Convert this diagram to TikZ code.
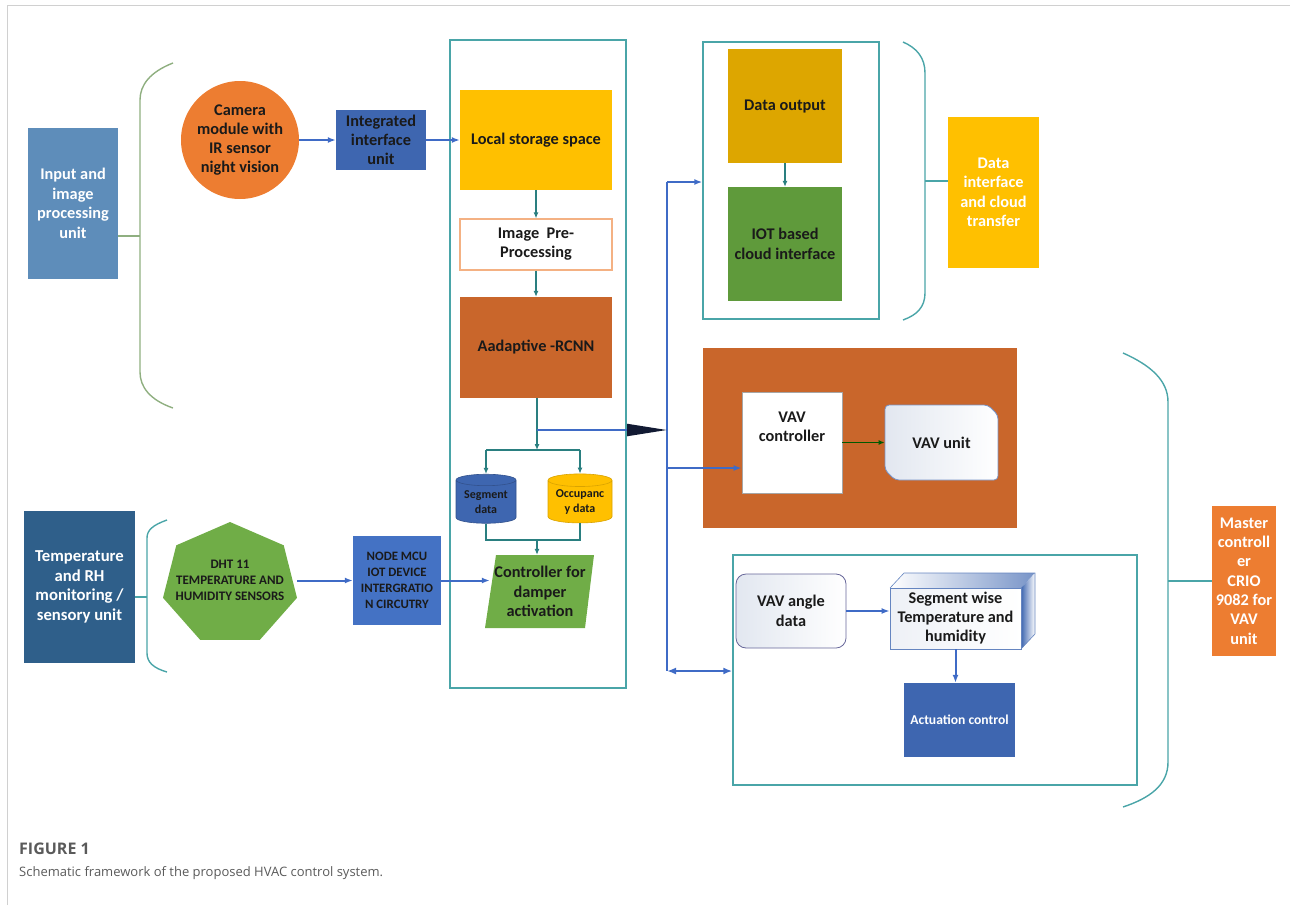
\documentclass[tikz,border=0pt]{standalone}
\usepackage{fontspec}
\setmainfont{Carlito}
\newfontfamily\capfont{Open Sans}
\usetikzlibrary{arrows.meta,shapes.geometric,shapes.misc}
\definecolor{steelA}{HTML}{5E8DBA}
\definecolor{navyB}{HTML}{2F5F8A}
\definecolor{blueC}{HTML}{3E66B0}
\definecolor{blueD}{HTML}{4472C4}
\definecolor{camor}{HTML}{ED7D31}
\definecolor{gold}{HTML}{FFC000}
\definecolor{dgold}{HTML}{DDA600}
\definecolor{greenA}{HTML}{70AD47}
\definecolor{greenB}{HTML}{5F9A3B}
\definecolor{rust}{HTML}{C9662B}
\definecolor{tealO}{HTML}{4AA5A8}
\definecolor{tealA}{HTML}{2A7F80}
\definecolor{lineblue}{HTML}{3F6BC6}
\definecolor{txtdark}{HTML}{1A1A1A}
\definecolor{brgreen}{HTML}{8FAF80}
\definecolor{tipdark}{HTML}{121A33}
\definecolor{capgray}{HTML}{5A5A5A}
\definecolor{frame}{HTML}{D0D0D0}
\definecolor{pale}{HTML}{E2E7F0}
\definecolor{ipporange}{HTML}{F4B183}
\newcommand\setfs[2]{\fontsize{#1}{#2}\selectfont}
\begin{document}
\begin{tikzpicture}[x=1pt,y=-1pt,
  lbl/.style={align=center, font=\bfseries\setfs{16.3}{19.5}, text=txtdark, inner sep=1pt},
  wlbl/.style={lbl, text=white},
  caps/.style={align=center, font=\bfseries\setfs{13}{16}, text=txtdark, inner sep=1pt},
  groupbox/.style={draw=tealO, line width=1.4pt, fill=none},
  tarrow/.style={draw=tealA, line width=1.1pt, -{Latex[length=6pt,width=5pt]}},
  tline/.style={draw=tealA, line width=1.1pt},
  barrow/.style={draw=lineblue, line width=2pt, -{Latex[length=8pt,width=6pt]}},
  bline/.style={draw=lineblue, line width=2pt},
  brace/.style={draw=tealO, line width=1.4pt},
]
\useasboundingbox (0,0) rectangle (1290,905);
% frame
\draw[frame, line width=1pt] (7,905) -- (7,5) -- (1290,5);

% ---------- left units ----------
\node[wlbl, fill=steelA, minimum width=90pt, minimum height=151pt] (inp) at (73,203.5)
  {Input and\\image\\processing\\unit};
\node[wlbl, fill=navyB, minimum width=111pt, minimum height=152pt, font=\bfseries\setfs{16.7}{19.5}] (temp) at (79.5,587)
  {Temperature\\and RH\\monitoring /\\sensory unit};

% braces
\coordinate (b1m) at (140,236);
\draw[brace, draw=brgreen] (173,63) .. controls (150,72) and (140,85) .. (140,100) -- (140,372) .. controls (140,387) and (150,400) .. (173,408);
\draw[brace, draw=brgreen] (inp.east |- b1m) -- (b1m);
\coordinate (b2m) at (147,597);
\draw[brace] (167,520) .. controls (153,525) and (147,530) .. (147,538) -- (147,653) .. controls (147,662) and (153,668) .. (167,672);
\draw[brace] (temp.east |- b2m) -- (b2m);

% camera, interface
\node[lbl, circle, fill=camor, minimum size=118pt, inner sep=0pt, font=\bfseries\setfs{16.3}{19}] (cam) at (240,140)
  {Camera\\module with\\IR sensor\\night vision};
\node[lbl, fill=blueC, minimum width=90pt, minimum height=60pt, font=\bfseries\setfs{16.3}{19}] (iiu) at (381,140)
  {Integrated\\interface\\unit};

% DHT heptagon
\fill[greenA] (230,522) -- (176.3,545.3) -- (163,597.8) -- (200.2,639.9) -- (259.8,639.9) -- (297,597.8) -- (283.7,545.3) -- cycle;
\node[caps, minimum width=134pt, minimum height=118pt] (dht) at (230,580)
  {DHT 11\\TEMPERATURE AND\\HUMIDITY SENSORS};
\node[caps, fill=blueD, minimum width=88pt, minimum height=89pt, font=\bfseries\setfs{12.8}{16}] (mcu) at (397,580.5)
  {NODE MCU\\IOT DEVICE\\INTERGRATIO\\N CIRCUTRY};

% ---------- processing column ----------
\node[groupbox, minimum width=176pt, minimum height=648pt] (col) at (538,364) {};
\node[lbl, fill=gold, minimum width=152pt, minimum height=100pt] (lss) at (536,140) {Local storage space};
\node[lbl, fill=white, draw=ipporange, line width=1.2pt, minimum width=152pt, minimum height=51pt, font=\bfseries\setfs{16.3}{19}] (ipp) at (536,244.5) {Image\ \ Pre-\\Processing};
\node[lbl, fill=rust, minimum width=152pt, minimum height=101pt] (rcnn) at (536,347.5) {Aadaptive -RCNN};

\node[caps, cylinder, shape border rotate=90, aspect=0.25, fill=blueC, draw=blueC!80!black, line width=0.6pt,
  minimum width=60pt, minimum height=49pt, font=\bfseries\setfs{12}{15}] (seg) at (486,502.5) {Segment\\data};
\node[caps, cylinder, shape border rotate=90, aspect=0.25, fill=gold, draw=gold!85!black, line width=0.6pt,
  minimum width=64pt, minimum height=49pt, font=\bfseries\setfs{12}{15}] (occ) at (580,502.5) {Occupanc\\y data};

\fill[greenA] (496,555) -- (594,555) -- (585,628) -- (485,628) -- cycle;
\node[lbl, minimum width=100pt, minimum height=73pt] (ctrl) at (540,591.5)
  {Controller for\\damper\\activation};

% ---------- top right ----------
\node[groupbox, minimum width=176pt, minimum height=277pt] (grp2) at (791,180.5) {};
\node[lbl, fill=dgold, minimum width=114pt, minimum height=114pt] (dout) at (785,106) {Data output};
\node[lbl, fill=greenB, minimum width=114pt, minimum height=114pt] (iot) at (785,244) {IOT based\\cloud interface};
\coordinate (b3m) at (925,181);
\draw[brace] (903,42) .. controls (917,48) and (925,58) .. (925,73) -- (925,293) .. controls (925,307) and (917,315) .. (903,320);
\node[wlbl, fill=gold, minimum width=91pt, minimum height=151pt] (dict) at (993.5,192.5)
  {Data\\interface\\and cloud\\transfer};
\draw[brace] (b3m) -- (b3m -| dict.west);

% ---------- VAV ----------
\node[fill=rust, minimum width=314pt, minimum height=180pt] (vavbox) at (860,438) {};
\node[lbl, fill=white, draw=gray!70, line width=0.8pt, minimum width=100pt, minimum height=101pt] (vavc) at (792,442.5)
  {VAV\\controller\\[12pt]};
\node[lbl, chamfered rectangle, chamfered rectangle corners={north east,south west},
  chamfered rectangle xsep=5pt, chamfered rectangle ysep=5pt, rounded corners=4pt,
  left color=pale, right color=white, draw=blueC!70, line width=0.8pt,
  minimum width=113pt, minimum height=75pt] (vavu) at (941.5,442.5) {VAV unit};

% bottom group
\node[groupbox, minimum width=404pt, minimum height=230pt] (grp3) at (935,670) {};
\node[lbl, rounded corners=10pt, left color=pale, right color=white, draw=gray!80!blue, line width=0.8pt,
  minimum width=110pt, minimum height=74pt] (vang) at (791,611) {VAV angle\\data};
% 3D box
\shade[left color=white, right color=blueC!70] (890,588) -- (904,573) -- (1035,573) -- (1021,588) -- cycle;
\shade[left color=blueC, right color=white] (1021,588) -- (1035,573) -- (1035,634) -- (1021,649) -- cycle;
\draw[blueC!80, line width=0.6pt] (890,588) -- (904,573) -- (1035,573) -- (1035,634) -- (1021,649);
\node[lbl, left color=pale!60, right color=white, draw=blueC!80, line width=0.8pt,
  minimum width=131pt, minimum height=61pt, font=\bfseries\setfs{16.3}{19}] (swt) at (955.5,618.5)
  {Segment wise\\Temperature and\\humidity};
\node[wlbl, fill=blueC, minimum width=111pt, minimum height=74pt, font=\bfseries\setfs{13.6}{15}] (act) at (959.5,720)
  {Actuation control};

% master controller
\coordinate (b4m) at (1168,581);
\draw[brace] (1123,353) .. controls (1150,365) and (1168,380) .. (1168,402) -- (1168,762) .. controls (1168,785) and (1150,798) .. (1123,807);
\node[wlbl, fill=camor, minimum width=64pt, minimum height=150pt, font=\bfseries\setfs{16.3}{19.3}] (mast) at (1244,581)
  {Master\\controll\\er\\CRIO\\9082 for\\VAV\\unit};
\draw[brace] (b4m) -- (b4m -| mast.west);

% ---------- connectors ----------
\draw[barrow] (cam.east) -- (iiu.west);
\draw[barrow] (iiu.east) -- (lss.west);
\draw[tarrow] (lss.south) -- (ipp.north);
\draw[tarrow] (ipp.south) -- (rcnn.north);
\coordinate (split) at (537,450);
\coordinate (rlink) at (537,430);
\draw[tarrow] (rcnn.south -| split) -- (split);
\draw[tline] (seg.north |- split) -- (occ.north |- split);
\draw[tarrow] (seg.north |- split) -- (seg.north);
\draw[tarrow] (occ.north |- split) -- (occ.north);
\coordinate (merge) at (537,540);
\draw[tline] (seg.south) -- (seg.south |- merge) -- (occ.south |- merge) -- (occ.south);
\draw[tarrow] (merge) -- (merge |- ctrl.north);
\draw[barrow] (dht.east |- mcu.west) -- (mcu.west);
\draw[barrow] (mcu.east) -- (mcu.east -| ctrl.west);

% bus
\coordinate (busT) at (667,182);
\coordinate (busM) at (667,430);
\coordinate (busV) at (667,468);
\coordinate (busB) at (667,671);
\draw[bline, line width=1.8pt] (busT) -- (busB);
\draw[draw=lineblue, line width=2pt, -{Triangle[length=40pt,width=12pt,color=tipdark]}] (rlink) -- (busM);
\draw[barrow] (busT) -- (busT -| grp2.west);
\draw[barrow] (busV) -- (busV -| vavc.west);
\draw[draw=lineblue, line width=2.2pt, {Latex[length=9pt,width=7pt]}-{Latex[length=9pt,width=7pt]}] (busB) -- (busB -| grp3.west);
\draw[draw=green!35!black, line width=1.1pt, -{Latex[length=6pt,width=5pt]}] (vavc.east) -- (vavu.west);
\draw[barrow] (vang.east) -- (vang.east -| swt.west);
\draw[barrow] (swt.south) -- (swt.south |- act.north);
\draw[tarrow] (dout.south) -- (iot.north);

% caption
\node[anchor=west, inner sep=0pt, text=capgray, font=\capfont\bfseries\setfs{16}{18}] (figlbl) at (19,849) {FIGURE 1};
\node[anchor=west, inner sep=0pt, text=capgray, font=\capfont\setfs{13}{16}] (figcap) at (19,873) {Schematic framework of the proposed HVAC control system.};
\end{tikzpicture}
\end{document}
